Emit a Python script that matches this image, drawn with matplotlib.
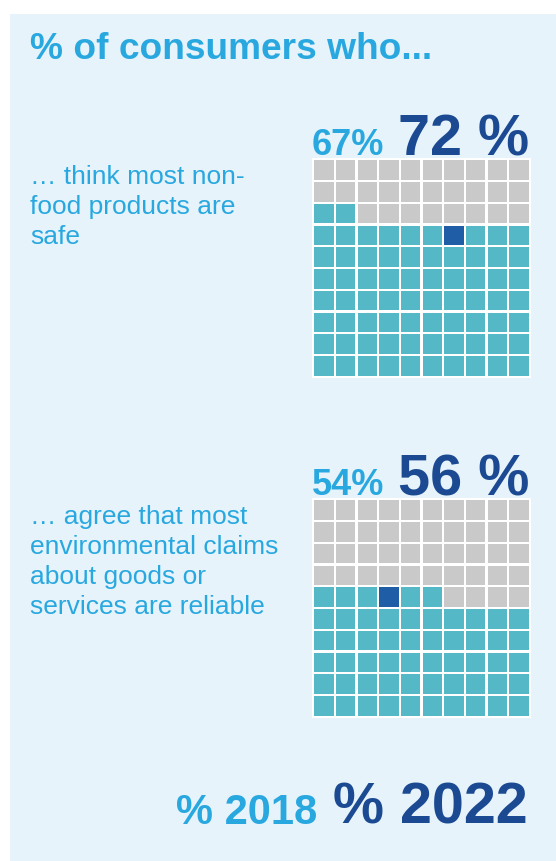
import matplotlib
matplotlib.use("Agg")
import matplotlib.pyplot as plt
from matplotlib.patches import Rectangle

plt.rcParams["font.family"] = ["Liberation Sans", "DejaVu Sans"]

# data
title = "% of consumers who..."
statements = [
    ["… think most non-", "food products are", "safe"],
    ["… agree that most", "environmental claims", "about goods or", "services are reliable"],
]
values_2018 = [67, 54]
values_2022 = [72, 56]
legend_labels = ["% 2018", "% 2022"]

LIGHT = "#29A8E0"
DARK = "#1B4A93"
TEAL = "#55B8C7"
GREY = "#C9C9C9"
MARK = "#1F5EA6"
PANEL = "#E6F3FA"

W, H = 556, 861
fig = plt.figure(figsize=(W / 100, H / 100), dpi=100)
fig.patch.set_facecolor("white")


def fx(x):
    return x / W


def fy(y):
    return 1 - y / H


# light blue panel, runs off the right and bottom edges
bg = fig.add_axes([fx(10), -0.01, 1.01 - fx(10), fy(14) + 0.01])
bg.set_facecolor(PANEL)
bg.set_xticks([])
bg.set_yticks([])
for s in bg.spines.values():
    s.set_visible(False)
bg.set_zorder(0)

fig.text(fx(30), fy(59), title, color=LIGHT, fontsize=26.7,
         fontweight="bold", va="baseline", ha="left")

grid_tops = [158, 498]
text_base = [184, 524]

for i in range(2):
    top = grid_tops[i]
    # statement text
    for j, line in enumerate(statements[i]):
        fig.text(fx(30), fy(text_base[i] + 30 * j), line, color=LIGHT,
                 fontsize=19, va="baseline", ha="left")

    # headline numbers
    fig.text(fx(312), fy(top - 3), f"{values_2018[i]}%", color=LIGHT,
             fontsize=26, fontweight="bold", va="baseline", ha="left")
    fig.text(fx(398), fy(top - 3), f"{values_2022[i]} %", color=DARK,
             fontsize=41.5, fontweight="bold", va="baseline", ha="left")

    # waffle grid: filled from bottom row, left to right
    ax = fig.add_axes([fx(312), fy(top + 220), fx(531) - fx(312), 220 / H])
    ax.set_zorder(2)
    ax.set_facecolor("white")
    ax.set_xlim(-0.06, 10.06)
    ax.set_ylim(-0.06, 10.06)
    ax.set_xticks([])
    ax.set_yticks([])
    for s in ax.spines.values():
        s.set_visible(False)
    for k in range(100):
        row, col = divmod(k, 10)
        n = k + 1
        if n == values_2018[i]:
            c = MARK
        elif n <= values_2022[i]:
            c = TEAL
        else:
            c = GREY
        ax.add_patch(Rectangle((col + 0.05, row + 0.05), 0.9, 0.9,
                               facecolor=c, edgecolor="none"))

# legend at the bottom
fig.text(fx(176), fy(824), legend_labels[0], color=LIGHT, fontsize=30,
         fontweight="bold", va="baseline", ha="left")
fig.text(fx(333), fy(824), legend_labels[1], color=DARK, fontsize=41.4,
         fontweight="bold", va="baseline", ha="left")

fig.savefig("out.png", dpi=100, facecolor="white")
